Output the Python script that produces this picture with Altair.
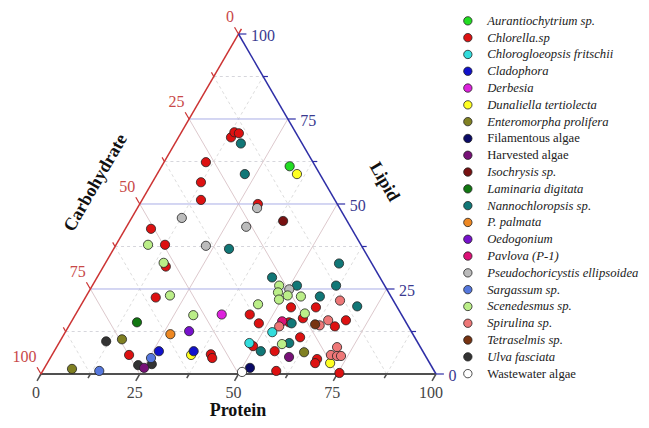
import math
import altair as alt
import pandas as pd

# ---------------- data ----------------
species_order = [
    "Aurantiochytrium sp.", "Chlorella.sp", "Chlorogloeopsis fritschii", "Cladophora",
    "Derbesia", "Dunaliella tertiolecta", "Enteromorpha prolifera", "Filamentous algae",
    "Harvested algae", "Isochrysis sp.", "Laminaria digitata", "Nannochloropsis sp.",
    "P. palmata", "Oedogonium", "Pavlova (P-1)", "Pseudochoricystis ellipsoidea",
    "Sargassum sp.", "Scenedesmus sp.", "Spirulina sp.", "Tetraselmis sp.",
    "Ulva fasciata", "Wastewater algae",
]
species_colors = [
    "#22dd22", "#dd1111", "#33dddd", "#1111cc",
    "#dd22dd", "#ffff22", "#808022", "#0a0a66",
    "#771177", "#771111", "#117711", "#117777",
    "#ee8822", "#7711cc", "#dd1177", "#bbbbbb",
    "#5577dd", "#bbee88", "#ee7777", "#773311",
    "#333333", "#ffffff",
]
upright_labels = ["Filamentous algae", "Harvested algae", "Wastewater algae"]

species = (
    ["Chlorella.sp"] * 29
    + ["Nannochloropsis sp."] * 12
    + ["Aurantiochytrium sp."]
    + ["Dunaliella tertiolecta"] * 3
    + ["Pseudochoricystis ellipsoidea"] * 5
    + ["Isochrysis sp."]
    + ["Scenedesmus sp."] * 12
    + ["Derbesia", "Laminaria digitata", "Oedogonium", "P. palmata"]
    + ["Ulva fasciata"] * 3
    + ["Enteromorpha prolifera"] * 3
    + ["Cladophora"] * 2
    + ["Sargassum sp."] * 2
    + ["Harvested algae"] * 2
    + ["Filamentous algae", "Wastewater algae"]
    + ["Chlorogloeopsis fritschii"] * 2
    + ["Pavlova (P-1)"]
    + ["Spirulina sp."] * 8
    + ["Tetraselmis sp."]
)
protein = [
    13.3, 13.4, 14.7, 10.6, 12.3, 14.9, 29.9, 6.5, 12.4, 15.8, 17.8, 44.1, 47.7, 19.5, 40.1,
    41.0, 49.6, 53.5, 59.8, 58.1, 55.2, 67.4, 69.3, 60.2, 55.8, 67.7, 67.8, 59.1, 75.4,
    16.7, 22.2, 29.2, 44.3, 51.8, 59.2, 61.7, 59.2, 70.1, 56.0, 52.3, 58.3,
    32.4,
    35.4, 35.2, 71.6,
    30.3, 12.7, 30.3, 22.9, 50.4,
    38.8,
    8.1, 14.7, 21.1, 29.9, 44.7, 47.3, 48.0, 49.3, 50.9, 54.4, 57.9, 56.6,
    37.0, 16.7, 31.2, 26.9,
    11.7, 23.3, 26.6,
    15.4, 7.1, 63.4,
    26.5, 35.3,
    25.5, 14.3,
    25.2, 60.3,
    52.0, 50.6,
    48.2, 52.4,
    53.3,
    53.3, 64.9, 64.8, 63.4, 71.0, 70.6, 72.3, 73.3,
    62.1,
]
lipid = [
    69.6, 71.1, 70.8, 62.3, 56.4, 51.2, 50.0, 42.7, 38.0, 31.6, 22.5, 17.5, 14.9, 5.6, 5.8,
    4.7, 8.2, 19.6, 19.6, 16.4, 15.2, 14.0, 15.8, 10.8, 6.7, 4.4, 3.2, 0.9, 0.3,
    67.8, 58.8, 36.8, 28.4, 26.0, 22.8, 26.0, 32.5, 19.9, 14.9, 6.7, 9.1,
    61.1,
    58.8, 5.6, 3.2,
    48.8, 45.9, 43.3, 37.7, 24.9,
    45.0,
    38.0, 32.7, 23.1, 17.3, 20.5, 26.0, 24.0, 21.9, 23.1, 22.8, 17.8, 8.8,
    17.5, 15.2, 12.6, 11.7,
    9.6, 2.6, 2.9,
    10.2, 1.5, 6.4,
    6.7, 6.7,
    4.7, 0.9,
    1.8, 5.0,
    1.8, 0.6,
    9.1, 12.3,
    15.5,
    14.0, 21.6, 15.8, 14.3, 7.9, 5.6, 5.3, 5.3,
    14.6,
]
carbohydrate = [
    17.1, 15.5, 14.5, 27.1, 31.3, 33.9, 20.1, 50.8, 49.6, 52.6, 59.7, 38.4, 37.4, 74.9, 54.1,
    54.3, 42.2, 26.9, 20.6, 25.5, 29.6, 18.6, 14.9, 29.0, 37.5, 27.9, 29.0, 40.0, 24.3,
    15.5, 19.0, 34.0, 27.3, 22.2, 18.0, 12.3, 8.3, 10.0, 29.1, 41.0, 32.6,
    6.5,
    5.8, 59.2, 25.2,
    20.9, 41.4, 26.4, 39.4, 24.7,
    16.2,
    53.9, 52.6, 55.8, 52.8, 34.8, 26.7, 28.0, 28.8, 26.0, 22.8, 24.3, 34.6,
    45.5, 68.1, 56.2, 61.4,
    78.7, 74.1, 70.5,
    74.4, 91.4, 30.2,
    66.8, 58.0,
    69.8, 84.8,
    73.0, 34.7,
    46.2, 48.8,
    42.7, 35.3,
    31.2,
    32.7, 13.5, 19.4, 22.3, 21.1, 23.8, 22.4, 21.4,
    23.3,
]

tick_values = [0, 25, 50, 75, 100]
minor_values = [12.5, 37.5, 62.5, 87.5]
grid_values = [12.5, 25, 37.5, 50, 62.5, 75, 87.5]
major_grid = [25, 50, 75]

# ---------------- geometry helpers ----------------
S3 = math.sqrt(3) / 2
W, H = 633, 412
xs = alt.Scale(domain=[-8.354, 151.899], nice=False, zero=False)
ys = alt.Scale(domain=[-11.717, 93.225], nice=False, zero=False)
FONT = "Liberation Serif"


def seg_layer(df, color, width, dash=None):
    m = dict(color=color, strokeWidth=width)
    if dash:
        m["strokeDash"] = dash
    return (
        alt.Chart(df)
        .transform_calculate(
            x1=f"datum.p1 + datum.l1/2", y1=f"datum.l1*{S3}",
            x2=f"datum.p2 + datum.l2/2", y2=f"datum.l2*{S3}",
        )
        .mark_rule(**m)
        .encode(
            x=alt.X("x1:Q", scale=xs, axis=None),
            y=alt.Y("y1:Q", scale=ys, axis=None),
            x2="x2:Q",
            y2="y2:Q",
        )
    )


# grid lines
rows = []
for v in grid_values:
    kind = "major" if v in major_grid else "minor"
    rows.append(dict(p1=0, l1=v, p2=100 - v, l2=v, fam="lipid", kind=kind))
    rows.append(dict(p1=v, l1=0, p2=v, l2=100 - v, fam="slant", kind=kind))
    rows.append(dict(p1=100 - v, l1=0, p2=0, l2=100 - v, fam="slant", kind=kind))
grid = pd.DataFrame(rows)

g_lip_major = seg_layer(grid[(grid.fam == "lipid") & (grid.kind == "major")], "#a9aee6", 1)
g_lip_minor = seg_layer(grid[(grid.fam == "lipid") & (grid.kind == "minor")], "#d6d6dc", 1, [3, 3])
g_sl_major = seg_layer(grid[(grid.fam == "slant") & (grid.kind == "major")], "#ddc9cd", 1)
g_sl_minor = seg_layer(grid[(grid.fam == "slant") & (grid.kind == "minor")], "#dddddd", 1, [3, 3])

# axis lines
ax_bottom = seg_layer(pd.DataFrame([dict(p1=0, l1=0, p2=100, l2=0)]), "#505050", 2)
ax_left = seg_layer(pd.DataFrame([dict(p1=0, l1=-0.5, p2=0, l2=101.5)]), "#cc3333", 1.5)
ax_right = seg_layer(pd.DataFrame([dict(p1=100, l1=0, p2=0, l2=100)]), "#2e2ea6", 1.5)

# ticks (in ternary space, extended outward along grid directions)
TM, Tm = 2.0, 1.2
bt, lt, rt = [], [], []
for v, t in [(v, TM) for v in tick_values] + [(v, Tm) for v in minor_values]:
    bt.append(dict(p1=v, l1=0, p2=v, l2=-t))
    lt.append(dict(p1=0, l1=100 - v, p2=-t, l2=100 - v + t))
    rt.append(dict(p1=100 - v, l1=v, p2=100 - v + t, l2=v))
tk_bottom = seg_layer(pd.DataFrame(bt), "#505050", 1.5)
tk_left = seg_layer(pd.DataFrame(lt), "#cc3333", 1.2)
tk_right = seg_layer(pd.DataFrame(rt), "#2e2ea6", 1.2)


def label_layer(df, color, align, dx, dy):
    return (
        alt.Chart(df)
        .transform_calculate(x=f"datum.p + datum.l/2", y=f"datum.l*{S3}")
        .mark_text(font=FONT, fontSize=16, color=color, align=align, baseline="middle", dx=dx, dy=dy)
        .encode(
            x=alt.X("x:Q", scale=xs, axis=None),
            y=alt.Y("y:Q", scale=ys, axis=None),
            text="t:N",
        )
    )


lb_bottom = label_layer(
    pd.DataFrame(dict(p=tick_values, l=[0] * 5, t=[str(v) for v in tick_values])),
    "#444444", "center", -5, 19)
lb_left = label_layer(
    pd.DataFrame(dict(p=[0] * 5, l=[100 - v for v in tick_values], t=[str(v) for v in tick_values])),
    "#c84848", "right", -4.5, -16.5)
lb_right = label_layer(
    pd.DataFrame(dict(p=[100 - v for v in tick_values], l=tick_values, t=[str(v) for v in tick_values])),
    "#3a3a90", "left", 12.5, 2)


def title_layer(text, px, py, angle):
    return (
        alt.Chart(pd.DataFrame({"t": [text]}))
        .mark_text(font=FONT, fontSize=18, fontWeight="bold", color="#111111",
                   align="center", baseline="middle", angle=angle)
        .encode(text="t:N", x=alt.value(px), y=alt.value(py))
    )


t_prot = title_layer("Protein", 230, 403, 0)
t_carb = title_layer("Carbohydrate", 88, 175, 300)
t_lip = title_layer("Lipid", 376, 174, 60)

# data points
pts = pd.DataFrame(dict(species=species, protein=protein, lipid=lipid, carbohydrate=carbohydrate))
italic_expr = (
    "indexof(" + str(upright_labels).replace('"', "'") + ", datum.label) >= 0 ? 'normal' : 'italic'"
)
points = (
    alt.Chart(pts)
    .transform_calculate(x=f"datum.protein + datum.lipid/2", y=f"datum.lipid*{S3}")
    .mark_point(filled=True, size=85, stroke="#222222", strokeWidth=0.8, opacity=1)
    .encode(
        x=alt.X("x:Q", scale=xs, axis=None),
        y=alt.Y("y:Q", scale=ys, axis=None),
        color=alt.Color(
            "species:N",
            scale=alt.Scale(domain=species_order, range=species_colors),
            legend=alt.Legend(
                orient="none", legendX=453.5, legendY=6.5, title=None, padding=0,
                labelFont=FONT, labelFontSize=12.7, labelColor="#222222",
                labelFontStyle={"expr": italic_expr},
                labelOffset=13, labelLimit=250, rowPadding=2.8,
                symbolType="circle", symbolSize=70, symbolStrokeColor="#222222",
                symbolStrokeWidth=0.8, symbolOpacity=1,
            ),
        ),
    )
)

chart = (
    alt.layer(
        g_lip_minor, g_sl_minor, g_sl_major, g_lip_major,
        ax_bottom, ax_left, ax_right, tk_bottom, tk_left, tk_right,
        lb_bottom, lb_left, lb_right, t_prot, t_carb, t_lip,
        points,
    )
    .properties(width=W, height=H, autosize=alt.AutoSizeParams(type="none"), padding=0)
    .configure_view(stroke=None)
)

chart.save("out.html", embed_options={"renderer": "svg", "actions": False})
